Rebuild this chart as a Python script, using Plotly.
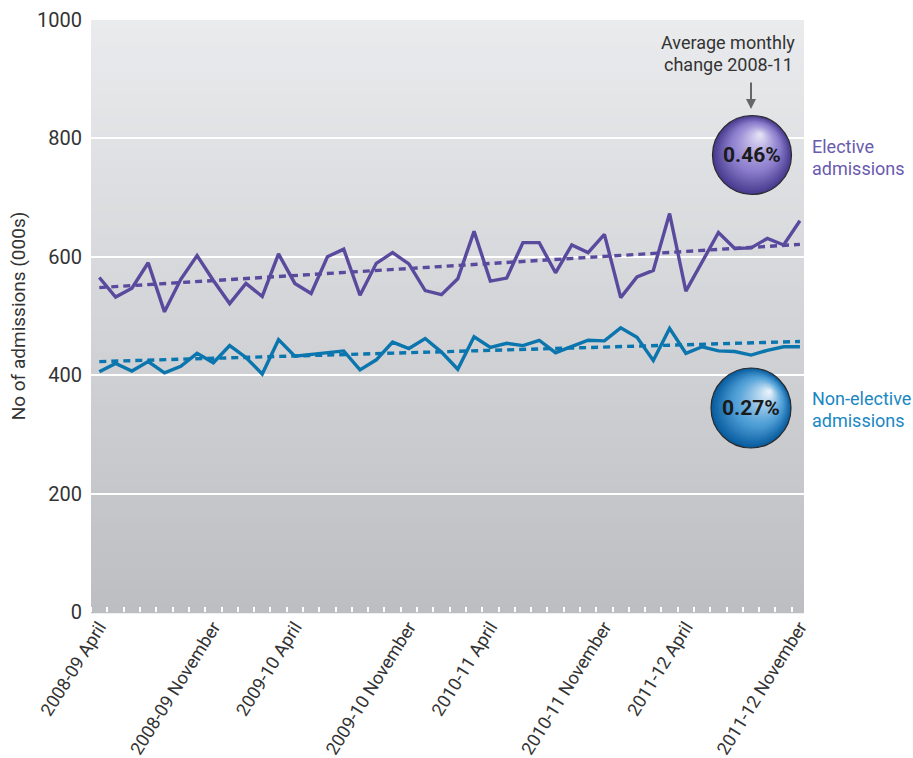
import plotly.graph_objects as go

# ---------------- data ----------------
months = []
for fy in ["2008-09", "2009-10", "2010-11", "2011-12"]:
    for m in ["April", "May", "June", "July", "August", "September", "October",
              "November", "December", "January", "February", "March"]:
        months.append(f"{fy} {m}")
months = months[:44]  # April 2008 .. November 2011

elective = [565, 532, 547, 590, 507, 562, 602, 560, 521, 555, 533,
            605, 555, 538, 600, 613, 535, 589, 607, 588, 543, 536,
            563, 643, 559, 564, 624, 624, 573, 620, 607, 638,
            531, 566, 577, 673, 542, 592, 641, 614, 615, 631, 620, 661]
non_elective = [406, 420, 407, 423, 404, 415, 437, 421, 450, 430, 402,
                460, 432, 435, 438, 441, 409, 426, 456, 445, 462, 439,
                410, 465, 447, 454, 450, 459, 438, 448, 459, 458,
                480, 464, 425, 479, 437, 448, 441, 440, 434, 442, 448, 448]
elective_trend = [548, 621]       # at first and last month
non_elective_trend = [423, 457]   # at first and last month

tick_labels = ["2008-09 April", "2008-09 November", "2009-10 April", "2009-10 November",
               "2010-11 April", "2010-11 November", "2011-12 April", "2011-12 November"]
y_ticks = [0, 200, 400, 600, 800, 1000]

elective_change = "0.46%"
non_elective_change = "0.27%"

# ---------------- styling ----------------
W, H = 913, 758
L, R_, T, B = 91, 804, 20, 612
PURPLE = "#5a4a9e"
BLUE = "#0b75ad"
PURPLE_TXT = "#6a5aae"
BLUE_TXT = "#1a87c2"
TXT = "#333333"
FONT = "Roboto, Lato, sans-serif"

x = list(range(len(months)))
xt = [0, len(months) - 1]
tickvals = [months.index(t) for t in tick_labels]


def px(xp):
    return (xp - L) / (R_ - L)


def py(yp):
    return (B - yp) / (B - T)


fig = go.Figure()
fig.add_trace(go.Scatter(x=xt, y=elective_trend, mode="lines",
                         line=dict(color=PURPLE, width=3.4, dash="7px,5px"),
                         hoverinfo="skip", showlegend=False))
fig.add_trace(go.Scatter(x=xt, y=non_elective_trend, mode="lines",
                         line=dict(color=BLUE, width=3.4, dash="7px,5px"),
                         hoverinfo="skip", showlegend=False))
fig.add_trace(go.Scatter(x=x, y=elective, mode="lines", name="Elective admissions",
                         line=dict(color=PURPLE, width=3.4), showlegend=False))
fig.add_trace(go.Scatter(x=x, y=non_elective, mode="lines", name="Non-elective admissions",
                         line=dict(color=BLUE, width=3.4), showlegend=False))

shapes = []
# gradient background
NB = 80
top = (234, 235, 237)
bot = (189, 190, 194)
for i in range(NB):
    t = (i + 0.5) / NB
    c = tuple(round(top[k] + (bot[k] - top[k]) * t) for k in range(3))
    shapes.append(dict(type="rect", xref="x domain", yref="y domain",
                       x0=0, x1=1, y0=1 - (i + 1) / NB - 0.002, y1=1 - i / NB,
                       fillcolor=f"rgb{c}", line=dict(width=0), layer="below"))


def mix(a, b, t):
    return tuple(round(a[k] + (b[k] - a[k]) * t) for k in range(3))


def sphere(cx, cy, Rad, dark, mid, light, hx, hy):
    out = []
    N = 44
    for i in range(N):
        t = i / (N - 1)
        r = Rad * (1 - t) + 2 * t
        ox, oy = hx * t, hy * t
        if t < 0.4:
            c = mix(dark, mid, t / 0.4)
        else:
            c = mix(mid, light, ((t - 0.4) / 0.6) ** 1.2)
        out.append(dict(type="circle", xref="paper", yref="paper",
                        xsizemode="pixel", ysizemode="pixel",
                        xanchor=px(cx), yanchor=py(cy),
                        x0=ox - r, x1=ox + r, y0=oy - r, y1=oy + r,
                        fillcolor=f"rgb{c}", line=dict(width=0)))
    out.append(dict(type="circle", xref="paper", yref="paper",
                    xsizemode="pixel", ysizemode="pixel",
                    xanchor=px(cx), yanchor=py(cy),
                    x0=-Rad, x1=Rad, y0=-Rad, y1=Rad,
                    line=dict(color="#2a2a2a", width=1.2)))
    return out


shapes += sphere(752, 155, 39.5, (72, 58, 142), (142, 128, 206), (226, 222, 246), 8, 20)
shapes += sphere(751, 408, 40, (8, 92, 158), (78, 158, 214), (228, 240, 250), 18, 16)

annotations = [
    dict(xref="paper", yref="paper", x=px(728), y=py(43), text="Average monthly",
         showarrow=False, font=dict(family=FONT, size=18, color=TXT),
         xanchor="center", yanchor="middle"),
    dict(xref="paper", yref="paper", x=px(728), y=py(65), text="change 2008-11",
         showarrow=False, font=dict(family=FONT, size=18, color=TXT),
         xanchor="center", yanchor="middle"),
    dict(xref="paper", yref="paper", x=px(751), y=py(109), text="",
         showarrow=True, ax=0, ay=-28, arrowhead=2, arrowsize=1, arrowwidth=2,
         arrowcolor="#666666"),
    dict(xref="paper", yref="paper", x=px(752), y=py(155), text=f"<b>{elective_change}</b>",
         showarrow=False, font=dict(family=FONT, size=21, color="#1a1a1a"),
         xanchor="center", yanchor="middle"),
    dict(xref="paper", yref="paper", x=px(751), y=py(408), text=f"<b>{non_elective_change}</b>",
         showarrow=False, font=dict(family=FONT, size=21, color="#1a1a1a"),
         xanchor="center", yanchor="middle"),
    dict(xref="paper", yref="paper", x=px(810), y=py(147), text="Elective",
         showarrow=False, font=dict(family=FONT, size=18, color=PURPLE_TXT),
         xanchor="left", yanchor="middle"),
    dict(xref="paper", yref="paper", x=px(810), y=py(168), text="admissions",
         showarrow=False, font=dict(family=FONT, size=18, color=PURPLE_TXT),
         xanchor="left", yanchor="middle"),
    dict(xref="paper", yref="paper", x=px(810), y=py(399), text="Non-elective",
         showarrow=False, font=dict(family=FONT, size=18, color=BLUE_TXT),
         xanchor="left", yanchor="middle"),
    dict(xref="paper", yref="paper", x=px(810), y=py(420), text="admissions",
         showarrow=False, font=dict(family=FONT, size=18, color=BLUE_TXT),
         xanchor="left", yanchor="middle"),
]

fig.update_layout(
    width=W, height=H,
    margin=dict(l=L, r=W - R_, t=T, b=H - B, pad=0),
    paper_bgcolor="white",
    plot_bgcolor="rgba(0,0,0,0)",
    shapes=shapes,
    annotations=annotations,
    showlegend=False,
    xaxis=dict(range=[-0.51, 43.25], tickmode="array", tickvals=tickvals, ticktext=tick_labels,
               tickangle=-58, ticks="", showgrid=False, zeroline=False, showline=False,
               automargin=False,
               tickfont=dict(family=FONT, size=18, color=TXT),
               minor=dict(ticks="inside", tick0=0.5, dtick=1, ticklen=5, tickwidth=1.5,
                          tickcolor="white", showgrid=False)),
    yaxis=dict(range=[0, 1000], tickmode="array", tickvals=y_ticks, showgrid=True,
               gridcolor="white", gridwidth=2, zeroline=False, showline=False, ticks="",
               ticklabelstandoff=8, automargin=False,
               tickfont=dict(family=FONT, size=20, color=TXT),
               title=dict(text="No of admissions (000s)", standoff=6,
                          font=dict(family=FONT, size=19, color=TXT))),
)

fig.write_html("out.html")
